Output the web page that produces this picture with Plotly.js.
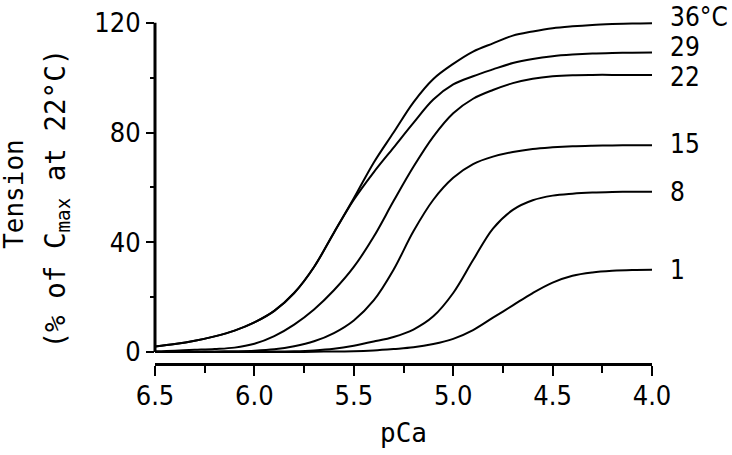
<!DOCTYPE html>
<html>
<head>
<meta charset="utf-8">
<script src="https://cdn.plot.ly/plotly-3.0.1.min.js"></script>
<style>html,body{margin:0;padding:0;background:#fff;}#chart{width:732px;height:455px;}</style>
</head>
<body>
<div id="chart"></div>
<script>
const pCa = [6.5, 6.4, 6.3, 6.2, 6.1, 6.0, 5.9, 5.8, 5.7, 5.6, 5.5, 5.4, 5.3, 5.2, 5.1, 5.0, 4.9, 4.8, 4.7, 4.6, 4.5, 4.4, 4.3, 4.2, 4.1, 4.0];
const t36 = [2.0, 2.9, 4.1, 5.7, 7.8, 10.8, 15.0, 21.5, 31.0, 43.5, 56.0, 69.0, 80.0, 91.0, 99.5, 105.0, 109.5, 112.5, 115.3, 116.8, 118.0, 118.7, 119.2, 119.5, 119.7, 119.8];
const t29 = [2.0, 2.9, 4.1, 5.7, 7.8, 10.8, 15.0, 21.5, 31.0, 43.5, 55.5, 65.5, 74.5, 83.5, 92.0, 97.5, 100.5, 103.0, 105.3, 106.8, 107.8, 108.4, 108.8, 109.0, 109.1, 109.2];
const t22 = [0.3, 0.5, 0.8, 1.1, 1.6, 3.0, 5.8, 10.0, 15.5, 22.5, 31.0, 42.0, 55.0, 67.5, 78.5, 87.0, 92.3, 95.5, 98.0, 99.6, 100.5, 100.9, 101.0, 101.0, 101.0, 101.0];
const t15 = [0, 0, 0.1, 0.2, 0.3, 0.5, 1.0, 2.1, 3.9, 6.9, 11.5, 18.8, 30.0, 44.0, 55.5, 63.5, 68.5, 71.2, 72.9, 74.0, 74.6, 75.0, 75.2, 75.3, 75.4, 75.4];
const t8 = [0, 0, 0, 0, 0, 0.1, 0.2, 0.3, 0.6, 1.2, 2.3, 3.8, 5.5, 8.2, 13.0, 21.5, 33.5, 45.0, 51.8, 55.3, 57.0, 57.7, 58.1, 58.3, 58.4, 58.4];
const t1 = [0, 0, 0, 0, 0, 0, 0, 0, 0.1, 0.2, 0.3, 0.6, 1.1, 1.7, 2.9, 4.8, 8.0, 12.5, 17.0, 21.5, 25.3, 27.8, 29.0, 29.6, 29.9, 30.0];
const seriesLabels = ["36°C", "29", "22", "15", "8", "1"];
const seriesValues = [t36, t29, t22, t15, t8, t1];
const labelShift = [6, 5, -2, 1, 0, 0];
const xTickVals = [6.5, 6.0, 5.5, 5.0, 4.5, 4.0];
const xTickText = ["6.5", "6.0", "5.5", "5.0", "4.5", "4.0"];
const yTickVals = [0, 40, 80, 120];

const narrow = "'Liberation Sans Narrow', 'DejaVu Sans Condensed', sans-serif";
const tickFont = {family: narrow, size: 27, color: "#000"};
const titleFont = {family: "'DejaVu Sans Mono', monospace", size: 26, color: "#000"};

const traces = seriesValues.map((v, i) => ({
  x: pCa, y: v, type: "scatter", mode: "lines",
  name: seriesLabels[i],
  line: {color: "#000", width: 2, shape: "spline", smoothing: 1},
  hoverinfo: "skip"
}));

const annotations = seriesValues.map((v, i) => ({
  x: pCa[pCa.length - 1], y: v[v.length - 1], xref: "x", yref: "y",
  text: seriesLabels[i], showarrow: false, xanchor: "left", yanchor: "middle",
  xshift: 16, yshift: labelShift[i],
  font: {family: narrow, size: 26, color: "#000"}
}));
annotations.push({
  xref: "paper", yref: "paper", x: -0.284, y: 0.4927, text: "Tension",
  textangle: -90, showarrow: false, xanchor: "center", yanchor: "middle", font: titleFont
});
annotations.push({
  xref: "paper", yref: "paper", x: -0.197, y: 0.48, text: "(% of C<sub>max</sub> at 22°C)",
  textangle: -90, showarrow: false, xanchor: "center", yanchor: "middle",
  font: {family: titleFont.family, size: 27.5, color: "#000"}
});

const layout = {
  width: 732, height: 455,
  margin: {l: 155, r: 80, t: 20, b: 92},
  paper_bgcolor: "#fff", plot_bgcolor: "#fff",
  showlegend: false,
  xaxis: {
    range: [6.5, 4.0], tickvals: xTickVals, ticktext: xTickText,
    ticks: "outside", ticklen: 10, tickwidth: 2, tickcolor: "#000",
    ticklabelstandoff: -3,
    showline: true, linewidth: 3, linecolor: "#000", showgrid: false, zeroline: false,
    tickfont: tickFont,
    minor: {dtick: 0.25, tick0: 4.0, ticks: "outside", ticklen: 7, tickwidth: 2, tickcolor: "#000", showgrid: false},
    title: {text: "pCa", font: titleFont, standoff: 14}
  },
  yaxis: {
    range: [-4, 121], tickvals: yTickVals,
    ticks: "outside", ticklen: 8, tickwidth: 2, tickcolor: "#000",
    showline: false, showgrid: false, zeroline: false,
    tickfont: tickFont,
    minor: {tickvals: [20, 60, 100], ticks: "outside", ticklen: 4, tickwidth: 2, tickcolor: "#000", showgrid: false}
  },
  shapes: [{
    type: "line", xref: "paper", yref: "y", x0: 0, x1: 0, y0: 0, y1: 120,
    line: {color: "#000", width: 3}
  }],
  annotations: annotations
};

Plotly.newPlot("chart", traces, layout, {displayModeBar: false, staticPlot: true});
</script>
</body>
</html>
